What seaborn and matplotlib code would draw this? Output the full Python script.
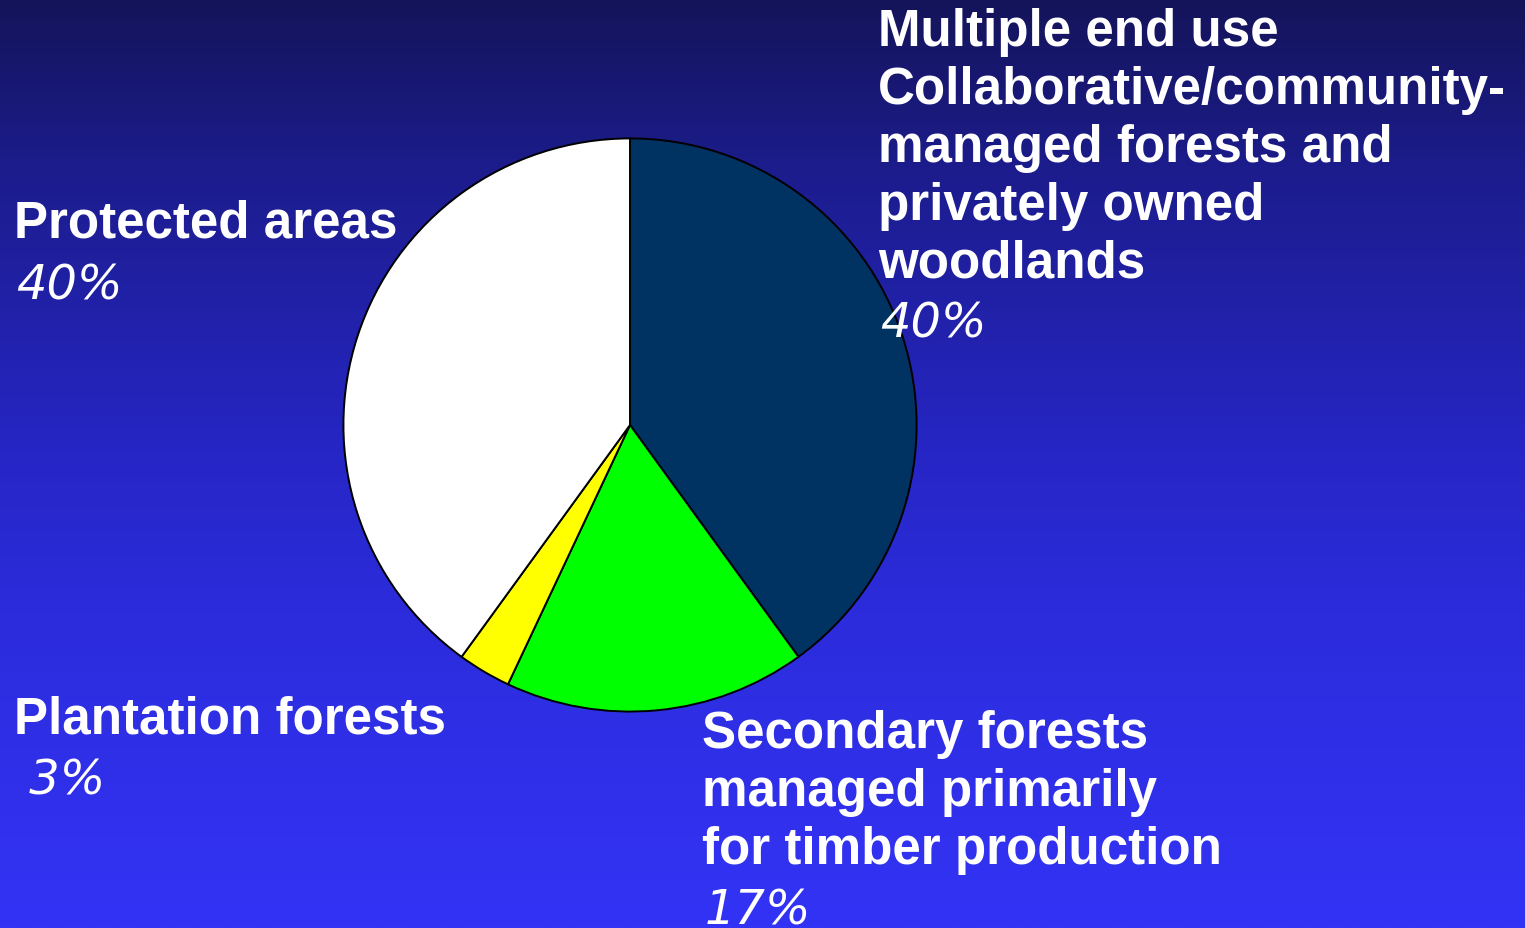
import numpy as np
import matplotlib
matplotlib.use("Agg")
import matplotlib.pyplot as plt
from matplotlib.colors import LinearSegmentedColormap
import seaborn as sns

# ---- data ----
categories = [
    "Multiple end use",
    "Secondary forests",
    "Plantation forests",
    "Protected areas",
]
shares = [40, 17, 3, 40]
slice_colors = ["#003262", "#00FF00", "#FFFF00", "#FFFFFF"]

label_lines = [
    ["Multiple end use", "Collaborative/community-", "managed forests and",
     "privately owned", "woodlands"],
    ["Secondary forests", "managed primarily", "for timber production"],
    ["Plantation forests"],
    ["Protected areas"],
]
pct_labels = ["40%", "17%", " 3%", "40%"]

sns.set_theme(style="white")
plt.rcParams["font.family"] = ["Liberation Sans", "DejaVu Sans"]

W, H = 1525, 929
fig = plt.figure(figsize=(W / 100, H / 100), dpi=100)

# background gradient
bg = fig.add_axes([0, 0, 1, 1])
cmap = LinearSegmentedColormap.from_list(
    "bg",
    [(0.0, "#14145A"), (0.18, "#1C1C8C"), (0.49, "#2626C6"),
     (0.66, "#2C2CDC"), (1.0, "#3333F6")],
)
grad = np.linspace(0, 1, 512).reshape(-1, 1)
bg.imshow(grad, aspect="auto", cmap=cmap, extent=[0, 1, 0, 1], origin="upper")
bg.set_axis_off()

# pie
cx, cy, r = 630, 426, 288
ax = fig.add_axes([(cx - r) / W, (H - cy - r) / H, 2 * r / W, 2 * r / H])
ax.pie(shares, colors=slice_colors, startangle=90, counterclock=False,
       radius=1, wedgeprops=dict(edgecolor="black", linewidth=1.4))
ax.set_xlim(-1.005, 1.005)
ax.set_ylim(-1.005, 1.005)
ax.set_aspect("equal")
ax.set_axis_off()

# label positions (pixels: left x, first baseline y)
label_pos = [(878, 46), (702, 748), (14, 733), (14, 237)]
pct_pos = [(880, 338), (705, 925), (14, 795), (16, 300)]
line_gap = 58

for lines, (lx, ly) in zip(label_lines, label_pos):
    for i, line in enumerate(lines):
        fig.text(lx / W, 1 - (ly + i * line_gap) / H, line, color="white",
                 fontsize=36.8, fontweight="bold", ha="left", va="baseline")

for pct, (px, py) in zip(pct_labels, pct_pos):
    fig.text(px / W, 1 - py / H, pct, color="white", fontsize=34.5,
             family=["DejaVu Sans"],
             fontstyle="oblique", fontweight="normal", ha="left", va="baseline")

fig.savefig("out.png", dpi=100)
